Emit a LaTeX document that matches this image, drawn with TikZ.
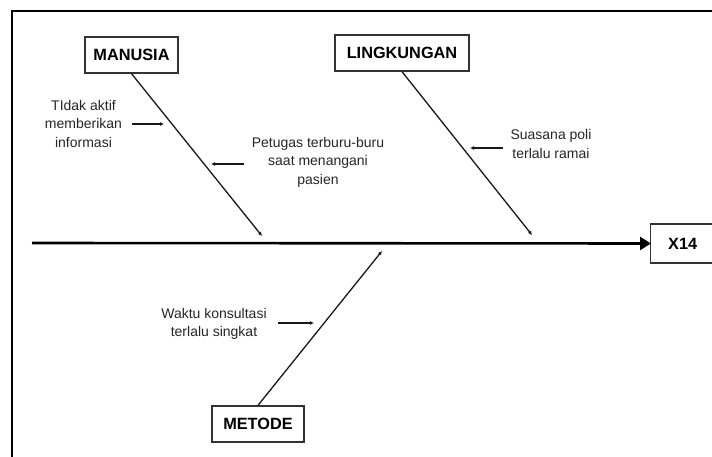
\documentclass[tikz,border=0pt]{standalone}
\usepackage{fontspec}
\setmainfont{Liberation Sans}
\usetikzlibrary{arrows.meta}
\tikzset{
  catbox/.style={draw=black!80, line width=1.3pt, fill=white, inner sep=0pt, font=\fontsize{16.3}{18}\selectfont\bfseries},
  causelbl/.style={align=center, inner sep=0pt, text=black!85, font=\fontsize{14}{18.5}\selectfont},
  bone/.style={line width=1.3pt, black!90, -{Latex[length=4pt,width=4pt]}},
  pointer/.style={line width=1.2pt, black!90, -{Latex[length=4pt,width=4pt]}},
  spine/.style={line width=2.6pt, black, -{Triangle[length=11pt,width=13pt]}, shorten >=-1pt}
}
\begin{document}
\begin{tikzpicture}[x=1pt,y=-1pt]
\useasboundingbox (0,0) rectangle (712,457);
\clip (0,0) rectangle (712,457);
\fill[white] (0,0) rectangle (712,457);
% frame
\draw[line width=2.8pt, black] (12,11) rectangle (760,500);
% category boxes
\node[catbox, minimum width=93pt, minimum height=36pt] (man) at (131.5,55) {MANUSIA};
\node[catbox, minimum width=134pt, minimum height=36pt] (lin) at (402,53) {LINGKUNGAN};
\node[catbox, minimum width=92pt, minimum height=36pt] (met) at (258,424) {METODE};
\node[catbox, minimum width=66pt, minimum height=39pt, anchor=west] (x14) at (650,243.5) {\hspace*{-2pt}X14};
% spine
\coordinate (sp) at (32,243);
\draw[spine] (sp) -- (x14.west);
% bone ends
\coordinate (mend) at (262,236);
\coordinate (lend) at (532,235);
\coordinate (tend) at (382,251);
\draw[bone] (man.south) -- (mend);
\draw[bone] (lin.south) -- (lend);
\draw[bone] (met.north) -- (tend);
% labels
\node[causelbl] (c1) at (83.5,123.5) {TIdak aktif\\memberikan\\informasi};
\node[causelbl] (c2) at (318,162) {Petugas terburu-buru\\saat menangani\\pasien};
\node[causelbl] (c3) at (551,144) {Suasana poli\\terlalu ramai};
\node[causelbl] (c4) at (214,324) {Waktu konsultasi\\terlalu singkat};
% pointer arrows
\coordinate (p1a) at (132,124); \coordinate (p1b) at (164,124);
\coordinate (p2a) at (244,164); \coordinate (p2b) at (211,164);
\coordinate (p3a) at (503,148); \coordinate (p3b) at (470,148);
\coordinate (p4a) at (278,323); \coordinate (p4b) at (314,323);
\draw[pointer] (p1a) -- (p1b);
\draw[pointer] (p2a) -- (p2b);
\draw[pointer] (p3a) -- (p3b);
\draw[pointer] (p4a) -- (p4b);
\end{tikzpicture}
\end{document}
